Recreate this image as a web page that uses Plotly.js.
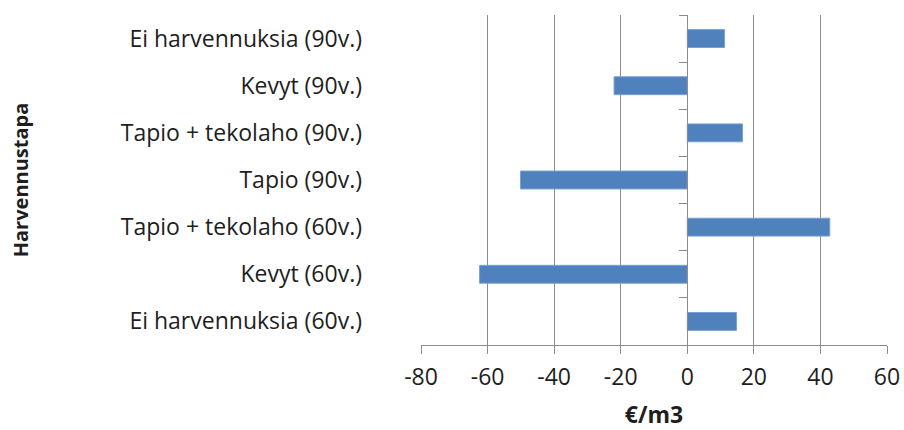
<!DOCTYPE html>
<html>
<head>
<meta charset="utf-8">
<script src="https://cdn.plot.ly/plotly-3.0.1.min.js"></script>
<style>html,body{margin:0;padding:0;background:#fff;}#chart{width:904px;height:430px;}</style>
</head>
<body>
<div id="chart"></div>
<script>
var categories = [
  "Ei harvennuksia (60v.)",
  "Kevyt (60v.)",
  "Tapio + tekolaho (60v.)",
  "Tapio (90v.)",
  "Tapio + tekolaho (90v.)",
  "Kevyt (90v.)",
  "Ei harvennuksia (90v.)"
];
var values = [14.8, -62.4, 42.8, -50.1, 16.6, -22.0, 11.2];
var xTickValues = [-80, -60, -40, -20, 0, 20, 40, 60];
var xTitle = "€/m3";
var yTitle = "Harvennustapa";

var FONT = "'Open Sans', Lato, sans-serif";
var GRID = "#8c8c8c";
var TXT = "#1e1e1e";

var data = [
  {
    type: "bar",
    orientation: "h",
    x: values,
    y: categories,
    marker: { color: "#4f81bd", line: { color: "#7aa0d4", width: 1 } },
    hoverinfo: "x+y",
    xaxis: "x",
    yaxis: "y"
  },
  {
    type: "scatter",
    mode: "markers",
    x: categories.map(function () { return 0; }),
    y: categories,
    marker: { opacity: 0 },
    hoverinfo: "skip",
    showlegend: false,
    xaxis: "x",
    yaxis: "y2"
  }
];

var layout = {
  width: 904,
  height: 430,
  margin: { l: 421, r: 17, t: 15, b: 85 },
  paper_bgcolor: "#ffffff",
  plot_bgcolor: "#ffffff",
  showlegend: false,
  bargap: 0.62,
  font: { family: FONT, color: TXT, size: 23 },
  xaxis: {
    range: [-80, 60],
    tickvals: xTickValues,
    ticktext: xTickValues.map(String),
    showgrid: true,
    gridcolor: GRID,
    gridwidth: 1,
    zeroline: false,
    showline: true,
    linecolor: GRID,
    linewidth: 1,
    ticks: "outside",
    ticklen: 8,
    tickcolor: GRID,
    ticklabelstandoff: 3,
    tickfont: { family: FONT, size: 23, color: TXT },
    title: { text: "<b>" + xTitle + "</b>", font: { family: FONT, size: 23, color: TXT }, standoff: 17 },
    automargin: false,
    fixedrange: true
  },
  yaxis: {
    type: "category",
    categoryorder: "array",
    categoryarray: categories,
    range: [-0.5, 6.5],
    showgrid: false,
    zeroline: false,
    showline: false,
    ticks: "",
    ticklabelstandoff: 58,
    tickfont: { family: FONT, size: 23, color: TXT },
    title: { text: "<b>" + yTitle + "</b>", font: { family: FONT, size: 20, color: TXT }, standoff: 86 },
    automargin: false,
    fixedrange: true
  },
  yaxis2: {
    type: "category",
    categoryorder: "array",
    categoryarray: categories,
    range: [-0.5, 6.5],
    overlaying: "y",
    anchor: "free",
    position: 80 / 140,
    side: "left",
    showgrid: false,
    zeroline: false,
    showline: true,
    linecolor: GRID,
    linewidth: 1,
    ticks: "outside",
    tickson: "boundaries",
    ticklen: 8,
    tickcolor: GRID,
    showticklabels: false,
    automargin: false,
    fixedrange: true
  }
};

Plotly.newPlot("chart", data, layout, { displayModeBar: false, staticPlot: true });
</script>
</body>
</html>
